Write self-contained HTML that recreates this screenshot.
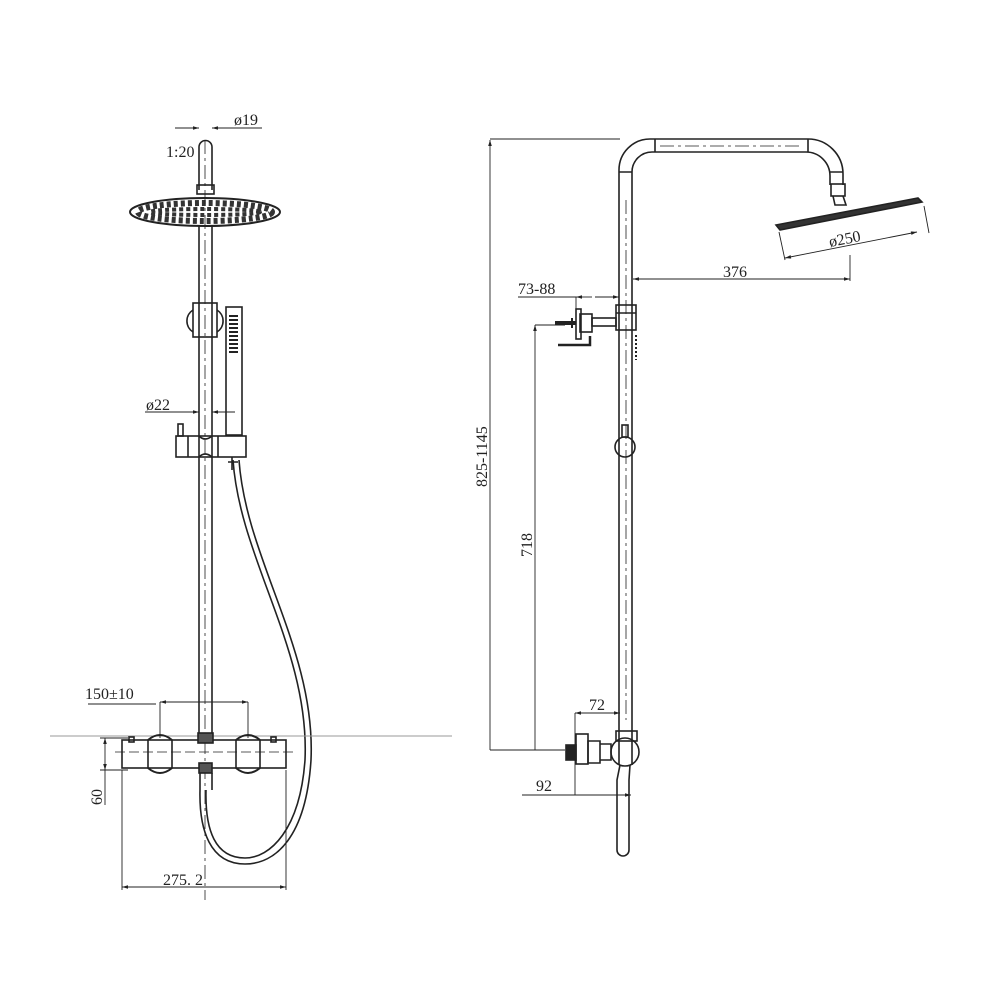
<!DOCTYPE html>
<html><head><meta charset="utf-8"><style>
html,body{margin:0;padding:0;background:#fff}
svg{display:block}
text{font-family:"Liberation Serif",serif;fill:#222}
</style></head><body>
<svg width="1000" height="1000" viewBox="0 0 1000 1000" xmlns="http://www.w3.org/2000/svg">
<defs>
<marker id="a" viewBox="0 0 10 6" refX="10" refY="3" markerWidth="10" markerHeight="4" orient="auto-start-reverse"><path d="M0,0L10,3L0,6z" fill="#222"/></marker>
</defs>
<g stroke="#222" fill="none" stroke-width="1.6">
<path d="M199,190 V147 a6.5,6.5 0 0 1 13,0 V190"/>
<rect x="197" y="185" width="17" height="9"/>
<ellipse cx="205" cy="212" rx="75" ry="14" stroke-width="2"/>
<ellipse cx="205" cy="212" rx="67" ry="9" stroke="#333" stroke-width="6" stroke-dasharray="4,3"/>
<ellipse cx="205" cy="212" rx="55" ry="3" stroke="#333" stroke-width="4" stroke-dasharray="4,3"/>
<path d="M199,226 V735 M212,226 V735"/>
<path d="M205,140 V900" stroke-width="0.8" stroke-dasharray="14,4,3,4"/>
<rect x="193" y="303" width="24" height="34"/>
<path d="M193,310 a13,13 0 0 0 0,22 M217,310 a13,13 0 0 1 0,22"/>
<rect x="226" y="307" width="16" height="128"/>
<path d="M229,316 H238 M229,320 H238 M229,324 H238 M229,328 H238 M229,332 H238 M229,336 H238 M229,340 H238 M229,344 H238 M229,348 H238 M229,352 H238" stroke-width="2"/>
<rect x="176" y="436" width="70" height="21"/>
<path d="M188,436 V457 M218,436 V457 M199,436 q6,6 13,0 M199,457 q6,-6 13,0"/>
<rect x="178" y="424" width="5" height="12"/>
<path d="M232,457 V470 M228,462 H238"/>
<path d="M233,460 C240,560 310,650 305,760 C300,830 270,858 245,858 C215,858 205,830 206,790"/>
<path d="M239,460 C246,560 316,650 311,760 C306,838 275,864 245,864 C210,864 199,830 200,790"/>
<path d="M50,736 H452" stroke="#999" stroke-width="1"/>
<rect x="122" y="740" width="164" height="28"/>
<path d="M148,740 V768 M172,740 V768 M236,740 V768 M260,740 V768"/>
<path d="M148,740 q12,-10 24,0 M148,768 q12,10 24,0 M236,740 q12,-10 24,0 M236,768 q12,10 24,0" stroke-width="2"/>
<rect x="129" y="737" width="5" height="5"/><rect x="271" y="737" width="5" height="5"/>
<rect x="198" y="733" width="15" height="10" fill="#555"/>
<rect x="199" y="763" width="13" height="10" fill="#555"/>
<path d="M200,773 V790 M212,773 V790"/>
<path d="M115,752 H295" stroke-width="0.8" stroke-dasharray="10,4"/>
<g stroke-width="0.9">
<path d="M175,128 H199" marker-end="url(#a)"/><path d="M240,128 H212" marker-end="url(#a)"/>
<path d="M232,128 H262"/>
<path d="M145,412 H199" marker-end="url(#a)"/><path d="M235,412 H212" marker-end="url(#a)"/>
<path d="M160,702 H248" marker-start="url(#a)" marker-end="url(#a)"/>
<path d="M88,704 H156"/>
<path d="M160,702 V738 M248,702 V738"/>
<path d="M100,738 H128 M100,770 H128"/>
<path d="M105,738 V770" marker-start="url(#a)" marker-end="url(#a)"/>
<path d="M105,770 V805"/>
<path d="M122,770 V890 M286,770 V890"/>
<path d="M122,887 H286" marker-start="url(#a)" marker-end="url(#a)"/>
</g>
<path d="M619,765 V170 a31,31 0 0 1 31,-31 H808 a35,35 0 0 1 35,35 V185"/>
<path d="M632,765 V172 a20,20 0 0 1 20,-20 H806 a24,24 0 0 1 24,24 V185"/>
<path d="M655,139 V152 M808,139 V152 M619,172 H632 M830,172 H843"/>
<path d="M626,200 V720 M660,146 H800" stroke-width="0.8" stroke-dasharray="14,4,3,4"/>
<rect x="831" y="184" width="14" height="12"/>
<path d="M833,196 L835,205 H846 L843,196"/>
<path d="M776,225 L918,198 L922,202 L780,230 Z" fill="#333"/>
<rect x="616" y="305" width="20" height="25"/>
<path d="M616,313 H636"/>
<rect x="592" y="318" width="24" height="8"/>
<rect x="580" y="314" width="12" height="18"/>
<rect x="576" y="309" width="5" height="30"/>
<path d="M558,345 H590 V336" stroke-width="2.5"/>
<path d="M555,323 H576" stroke-width="4"/>
<path d="M572,318 V328" stroke-width="2"/>
<path d="M636,335 V360" stroke-dasharray="2,2" stroke-width="2"/>
<circle cx="625" cy="447" r="10"/>
<rect x="622" y="425" width="6" height="12"/>
<rect x="616" y="731" width="21" height="10"/>
<circle cx="625" cy="752" r="14"/>
<path d="M600,744 H611 V760 H600 Z M588,741 H600 V763 H588 Z"/>
<rect x="576" y="734" width="12" height="30"/>
<rect x="566" y="745" width="10" height="15" fill="#222"/>
<path d="M620,765 L617,780 V850 a6,6 0 0 0 12,0 V780 L630,765"/>
<g stroke-width="0.9">
<path d="M490,139 H620 M490,750 H565 M535,325 H565"/>
<path d="M490,750 V140" marker-end="url(#a)"/>
<path d="M535,750 V325" marker-end="url(#a)"/>
<path d="M633,279 H850" marker-start="url(#a)" marker-end="url(#a)"/>
<path d="M850,255 V281"/>
<path d="M785,258 L917,232" marker-start="url(#a)" marker-end="url(#a)"/>
<path d="M779,232 L785,260 M924,206 L929,233"/>
<path d="M518,297 H576"/>
<path d="M576,297 H592" marker-start="url(#a)"/>
<path d="M595,297 H619" marker-end="url(#a)"/>
<path d="M576,297 V315"/>
<path d="M575,713 H620" marker-start="url(#a)" marker-end="url(#a)"/>
<path d="M575,713 V795"/>
<path d="M522,795 H631" marker-end="url(#a)"/>
</g>
</g>
<g font-size="16">
<text x="234" y="125">ø19</text>
<text x="166" y="157">1:20</text>
<text x="146" y="410">ø22</text>
<text x="85" y="699">150±10</text>
<text x="163" y="885">275. 2</text>
<text transform="translate(102,805) rotate(-90)">60</text>
<text x="723" y="277">376</text>
<text transform="translate(830,247) rotate(-11)">ø250</text>
<text x="518" y="294">73-88</text>
<text transform="translate(487,487) rotate(-90)">825-1145</text>
<text transform="translate(532,557) rotate(-90)">718</text>
<text x="589" y="710">72</text>
<text x="536" y="791">92</text>
</g>
</svg>
</body></html>
